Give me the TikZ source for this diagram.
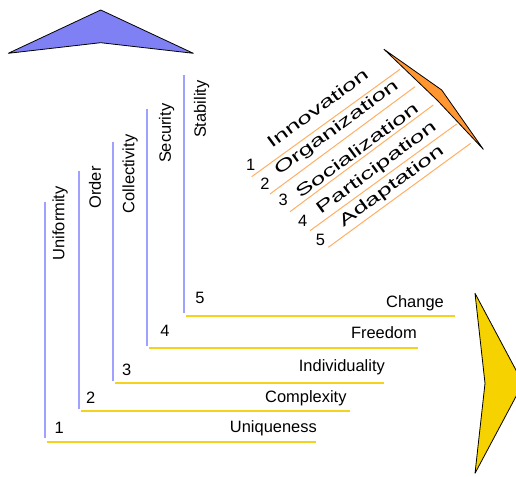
\documentclass[tikz,border=0pt]{standalone}
\usepackage{fontspec}
\setmainfont{Liberation Sans}
\usepackage{graphicx}
\definecolor{bluefill}{RGB}{128,128,245}
\definecolor{blueline}{RGB}{160,160,255}
\definecolor{goldline}{RGB}{245,210,30}
\definecolor{goldfill}{RGB}{245,210,0}
\definecolor{orangeline}{RGB}{255,175,100}
\definecolor{orangefill}{RGB}{255,150,50}
\tikzset{
  lbl/.style={inner sep=0pt, font=\fontsize{16.5}{18}\selectfont},
  rlbl/.style={lbl, rotate=36.3},
  vlbl/.style={lbl, rotate=90},
  vline/.style={draw=blueline, line width=1.6bp},
  hline/.style={draw=goldline, line width=1.6bp},
  oline/.style={draw=orangeline, line width=1bp},
  arrowhead/.style={draw=black, line width=0.8bp, line join=round},
}
\begin{document}
\begin{tikzpicture}[x=1bp, y=-1bp]
\useasboundingbox (0,0) rectangle (516,477);

% upward head (blue)
\draw[arrowhead, fill=bluefill] (8.3,53.3) -- (100.7,10) -- (193.3,53.3) -- (100.7,42.7) -- cycle;

% staircase: vertical risers
\draw[vline] (45,201.5) -- (45,438);
\draw[vline] (79,171.5) -- (79,409);
\draw[vline] (113,142.5) -- (113,380.5);
\draw[vline] (147,109) -- (147,346);
\draw[vline] (184,75.5) -- (184,313);

% staircase: horizontal treads
\draw[hline] (46.5,442) -- (315.5,442);
\draw[hline] (80.5,411) -- (349.5,411);
\draw[hline] (115,383) -- (383.5,383);
\draw[hline] (149,348) -- (417.5,348);
\draw[hline] (186,316) -- (455,316);

% riser labels
\node[vlbl] (uni) at (60,223.3) {Uniformity};
\node[vlbl] (ord) at (95,187.5) {Order};
\node[vlbl] (col) at (130,174) {Collectivity};
\node[vlbl] (sec) at (166.7,133.3) {Security};
\node[vlbl] (sta) at (201.7,109.2) {Stability};

% step numbers
\node[lbl, anchor=base] (n1) at (59.3,433.3) {1};
\node[lbl, anchor=base] (n2) at (90.7,403.3) {2};
\node[lbl, anchor=base] (n3) at (126.7,375) {3};
\node[lbl, anchor=base] (n4) at (165,336.7) {4};
\node[lbl, anchor=base] (n5) at (200,303.3) {5};

% tread labels
\node[lbl, anchor=base east] (uq) at (317,432.3) {Uniqueness};
\node[lbl, anchor=base east] (cx) at (346.7,402.7) {Complexity};
\node[lbl, anchor=base east] (ind) at (385,371.7) {Individuality};
\node[lbl, anchor=base east] (fr) at (417,338.3) {Freedom};
\node[lbl, anchor=base east] (ch) at (444,307.3) {Change};

% rightward head (yellow)
\begin{scope}
\clip (0,0) rectangle (516,477);
\draw[arrowhead, fill=goldfill] (475,293.3) -- (523,383.3) -- (475,473.3) -- (485,383.3) -- cycle;
\end{scope}

% diagonal head (orange)
\draw[arrowhead, fill=orangefill] (384,49.3) -- (441.7,90) -- (483.3,149.3) -- (437.5,100.5) -- cycle;

% diagonal rulings
\draw[oline] (251.7,176.7) -- (400,69.3);
\draw[oline] (270,194) -- (415,86.7);
\draw[oline] (290,211.7) -- (433.3,105);
\draw[oline] (310,230.7) -- (456.7,124);
\draw[oline] (328.3,247.3) -- (470.7,143.3);

% diagonal numbers
\node[lbl] (d1) at (250.7,165) {1};
\node[lbl] (d2) at (265,183.3) {2};
\node[lbl] (d3) at (283.3,199.5) {3};
\node[lbl] (d4) at (302.7,221) {4};
\node[lbl] (d5) at (320.5,239.5) {5};

% diagonal labels
\node[rlbl] (inn) at (317.3,108.3) {\scalebox{1.6}[1]{Innovation}};
\node[rlbl] (org) at (336.7,128.3) {\scalebox{1.6}[1]{Organization}};
\node[rlbl] (soc) at (356.7,150) {\scalebox{1.6}[1]{Socialization}};
\node[rlbl] (par) at (376.7,168.3) {\scalebox{1.6}[1]{Participation}};
\node[rlbl] (ada) at (391.7,186.7) {\scalebox{1.6}[1]{Adaptation}};
\end{tikzpicture}
\end{document}
